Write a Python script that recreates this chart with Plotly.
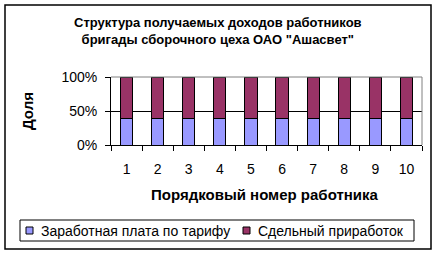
import plotly.graph_objects as go

workers = ["1", "2", "3", "4", "5", "6", "7", "8", "9", "10"]
tariff_share = [39, 39, 39, 39, 39, 39, 39, 39, 39, 39]
piecework_share = [61, 61, 61, 61, 61, 61, 61, 61, 61, 61]
series_names = ["Заработная плата по тарифу", "Сдельный приработок"]
series_colors = ["#9999FF", "#993366"]
y_ticks = [0, 50, 100]
y_tick_labels = ["0%", "50%", "100%"]

W, H = 437, 254
L, R, T, B = 111, 422, 77, 145  # plot area in pixels
pw, ph = R - L, B - T

def px_x(x):
    return (x - L) / pw

def px_y(y):
    return (B - y) / ph

font = "Arial, Liberation Sans, sans-serif"

fig = go.Figure()
for vals, name, col in zip([tariff_share, piecework_share], series_names, series_colors):
    fig.add_trace(go.Bar(x=workers, y=vals, name=name,
                         marker=dict(color=col, line=dict(color="black", width=1))))

fig.update_layout(
    width=W, height=H,
    margin=dict(l=L, r=W - R, t=T, b=H - B, autoexpand=False),
    barmode="stack", bargap=0.61,
    paper_bgcolor="white", plot_bgcolor="white",
    font=dict(family=font, size=14, color="black"),
    showlegend=False,
    xaxis=dict(type="category", showline=True, linecolor="black", linewidth=1,
               ticks="outside", ticklen=5, tickcolor="black", tickson="boundaries",
               showgrid=False, tickfont=dict(size=14), ticklabelstandoff=11),
    yaxis=dict(range=[0, 100], tickvals=y_ticks, ticktext=y_tick_labels,
               showline=True, linecolor="black", linewidth=1,
               ticks="outside", ticklen=5, tickcolor="black",
               showgrid=True, gridcolor="black", gridwidth=1, zeroline=False,
               tickfont=dict(size=14), ticklabelstandoff=5),
)

# plot area border (grey) on top and right
fig.add_shape(type="line", xref="paper", yref="paper", x0=0, x1=1, y0=1, y1=1,
              line=dict(color="#808080", width=1))
fig.add_shape(type="line", xref="paper", yref="paper", x0=1, x1=1, y0=0, y1=1,
              line=dict(color="#808080", width=1))
# outer chart border
fig.add_shape(type="rect", xref="paper", yref="paper",
              x0=px_x(5), x1=px_x(431), y0=px_y(249), y1=px_y(5),
              line=dict(color="black", width=1.5))

# title
fig.add_annotation(text="<b>Структура получаемых доходов работников<br>бригады сборочного цеха ОАО \"Ашасвет\"</b>",
                   xref="paper", yref="paper", x=px_x(218), y=px_y(31),
                   xanchor="center", yanchor="middle", showarrow=False,
                   font=dict(size=13, family=font))

# manual legend
fig.add_shape(type="rect", xref="paper", yref="paper",
              x0=px_x(20), x1=px_x(414), y0=px_y(241), y1=px_y(220),
              line=dict(color="black", width=1), fillcolor="white")
legend_sq_x = [26, 243]
for sx, name, col in zip(legend_sq_x, series_names, series_colors):
    fig.add_shape(type="rect", xref="paper", yref="paper",
                  x0=px_x(sx), x1=px_x(sx + 7), y0=px_y(234), y1=px_y(227),
                  line=dict(color="black", width=1), fillcolor=col)
    fig.add_annotation(text=name, xref="paper", yref="paper",
                       x=px_x(sx + 13), y=px_y(230.5), xanchor="left", yanchor="middle",
                       showarrow=False, font=dict(size=14, family=font))

fig.add_annotation(text="<b>Доля</b>", xref="paper", yref="paper",
                   x=px_x(27), y=px_y(111), xanchor="center", yanchor="middle",
                   textangle=-90, showarrow=False,
                   font=dict(size=15, family=font))
fig.add_annotation(text="<b>Порядковый номер работника</b>", xref="paper", yref="paper",
                   x=px_x(265), y=px_y(194), xanchor="center", yanchor="middle",
                   showarrow=False,
                   font=dict(size=15, family=font))

fig.write_html("out.html")
